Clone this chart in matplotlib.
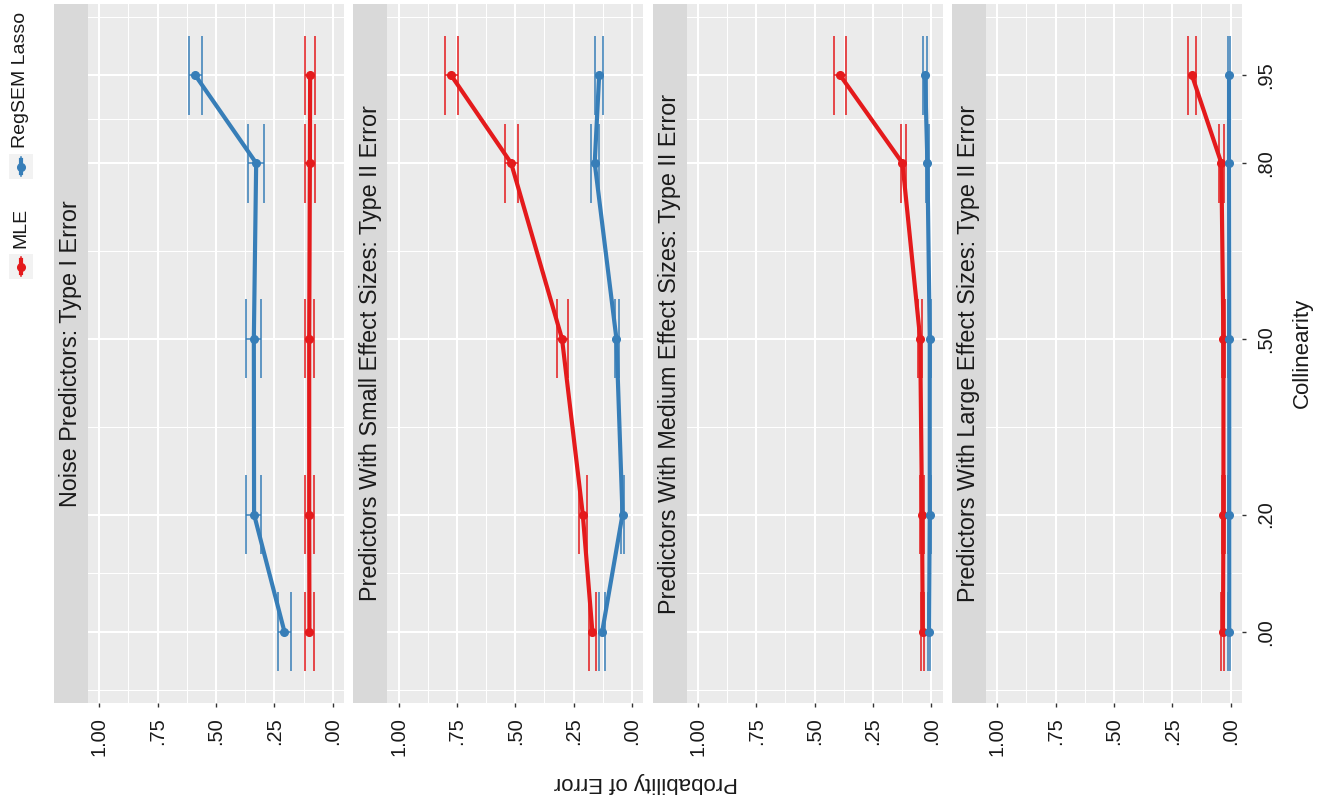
import numpy as np
import matplotlib.pyplot as plt
from matplotlib.patches import Rectangle

plt.rcParams['font.family'] = ['Liberation Sans', 'DejaVu Sans']

# collinearity levels (vertical axis in this rotated layout)
collinearity = [0.00, 0.20, 0.50, 0.80, 0.95]
collinearity_labels = [".00", ".20", ".50", ".80", ".95"]
probability_ticks = [0.0, 0.25, 0.50, 0.75, 1.00]
probability_labels = [".00", ".25", ".50", ".75", "1.00"]

panel_titles = [
    "Noise Predictors: Type I Error",
    "Predictors With Small Effect Sizes: Type II Error",
    "Predictors With Medium Effect Sizes: Type II Error",
    "Predictors With Large Effect Sizes: Type II Error",
]
methods = ["MLE", "RegSEM Lasso"]
method_colors = ["#E41A1C", "#377EB8"]

# one row per panel, one value per collinearity level
mle_est = [
    [0.100, 0.101, 0.101, 0.098, 0.097],
    [0.170, 0.211, 0.300, 0.518, 0.775],
    [0.037, 0.040, 0.048, 0.124, 0.391],
    [0.033, 0.031, 0.031, 0.040, 0.166],
]
mle_lo = [
    [0.080, 0.081, 0.081, 0.078, 0.077],
    [0.153, 0.193, 0.275, 0.488, 0.746],
    [0.030, 0.033, 0.040, 0.108, 0.364],
    [0.027, 0.025, 0.025, 0.030, 0.148],
]
mle_hi = [
    [0.121, 0.121, 0.121, 0.118, 0.118],
    [0.184, 0.227, 0.322, 0.545, 0.799],
    [0.045, 0.047, 0.056, 0.131, 0.418],
    [0.040, 0.038, 0.038, 0.050, 0.181],
]
reg_est = [
    [0.207, 0.337, 0.338, 0.328, 0.589],
    [0.128, 0.041, 0.067, 0.160, 0.141],
    [0.010, 0.007, 0.007, 0.017, 0.027],
    [0.006, 0.006, 0.006, 0.007, 0.007],
]
reg_lo = [
    [0.181, 0.306, 0.306, 0.295, 0.561],
    [0.116, 0.033, 0.057, 0.140, 0.125],
    [0.005, 0.003, 0.003, 0.010, 0.018],
    [0.003, 0.003, 0.003, 0.003, 0.003],
]
reg_hi = [
    [0.235, 0.372, 0.372, 0.362, 0.616],
    [0.141, 0.048, 0.074, 0.177, 0.158],
    [0.015, 0.011, 0.011, 0.024, 0.035],
    [0.010, 0.010, 0.010, 0.010, 0.010],
]

W, H = 1317, 795
PANEL_STEP = 299.3
CAP_HALF = 0.0675
TEXT = "#1A1A1A"


def px_box(x0, y0, x1, y1):
    """figure fraction rect from pixel corners (y measured from the top)"""
    return [x0 / W, 1 - y1 / H, (x1 - x0) / W, (y1 - y0) / H]


fig = plt.figure(figsize=(W / 100, H / 100), dpi=100)
col = np.array(collinearity)
series = [(mle_est, mle_lo, mle_hi), (reg_est, reg_lo, reg_hi)]

for k, title in enumerate(panel_titles):
    off = k * PANEL_STEP
    ax = fig.add_axes(px_box(88 + off, 4, 344 + off, 703))
    ax.set_facecolor("#EBEBEB")
    for sp in ax.spines.values():
        sp.set_visible(False)
    ax.set_xlim(1.048, -0.048)
    ax.set_ylim(-0.1217, 1.0715)

    ax.set_xticks(probability_ticks, probability_labels, rotation=90)
    ax.set_xticks([0.125, 0.375, 0.625, 0.875], minor=True)
    ax.set_yticks(collinearity)
    ax.set_yticks([-0.1, 0.1, 0.35, 0.65, 0.875, 1.05], minor=True)
    ax.grid(which="major", color="white", lw=1.5)
    ax.grid(which="minor", color="white", lw=0.75)
    ax.set_axisbelow(True)
    ax.tick_params(axis="x", which="major", length=3, width=1, color="#333333",
                   labelsize=14.4, labelcolor=TEXT, pad=7)
    ax.tick_params(axis="both", which="minor", length=0)

    if k == 3:
        ax.yaxis.tick_right()
        ax.set_yticklabels(collinearity_labels, rotation=90, va="center")
        ax.tick_params(axis="y", which="major", length=3, width=1, color="#333333",
                       labelsize=14.4, labelcolor=TEXT, pad=7)
    else:
        ax.tick_params(axis="y", which="major", left=False, right=False,
                       labelleft=False)

    # error bars first, then lines, then points
    for (est, lo, hi), color in zip(series, method_colors):
        ax.hlines(col, lo[k], hi[k], color=color, lw=1.1, zorder=2)
        ax.vlines(lo[k], col - CAP_HALF, col + CAP_HALF, color=color, lw=1.1, zorder=2)
        ax.vlines(hi[k], col - CAP_HALF, col + CAP_HALF, color=color, lw=1.1, zorder=2)
    for (est, lo, hi), color in zip(series, method_colors):
        ax.plot(est[k], col, color=color, lw=3.0, zorder=3)
    for (est, lo, hi), color in zip(series, method_colors):
        ax.plot(est[k], col, "o", color=color, ms=5.5, zorder=4)

    # facet strip on the left of each panel
    st = fig.add_axes(px_box(54 + off, 4, 88 + off, 703))
    st.set_facecolor("#D9D9D9")
    st.set_xticks([])
    st.set_yticks([])
    for sp in st.spines.values():
        sp.set_visible(False)
    st.text(0.5, 0.5, title, rotation=90, ha="center", va="center",
            fontsize=16.8, color=TEXT, transform=st.transAxes)

fig.text(646 / W, 1 - 783 / H, "Probability of Error", rotation=180,
         ha="center", va="center", fontsize=16, color=TEXT)
fig.text(1302 / W, 1 - 353 / H, "Collinearity", rotation=90,
         ha="center", va="center", fontsize=16, color=TEXT)

# legend, drawn by hand since it is rotated too
lg = fig.add_axes([0, 0, 1, 1])
lg.set_xlim(0, W)
lg.set_ylim(H, 0)
lg.axis("off")
for name, color, key_top in zip(methods, method_colors, [254, 154]):
    lg.add_patch(Rectangle((9, key_top), 24, 25, facecolor="#F2F2F2", edgecolor="none"))
    lg.plot([21, 21], [key_top + 3, key_top + 22], color=color, lw=1.1)
    lg.plot([21, 21], [key_top + 6, key_top + 19], color=color, lw=3.0)
    lg.plot([21], [key_top + 12.5], "o", color=color, ms=5.5)
    lg.text(21, key_top - 6, name, rotation=90, ha="center", va="bottom",
            fontsize=14, color=TEXT)

fig.savefig("out.png", dpi=100)
